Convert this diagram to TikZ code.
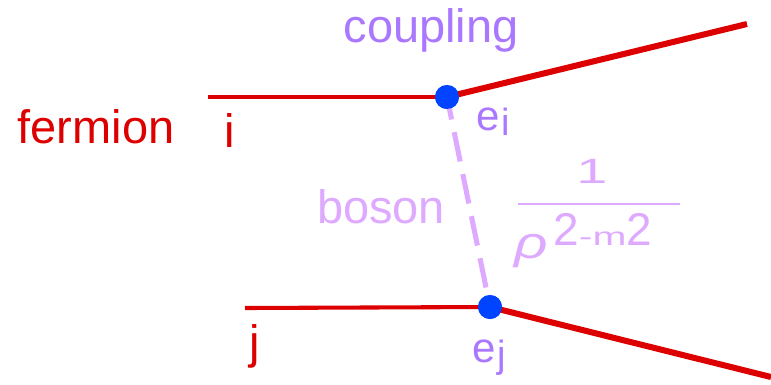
\documentclass[tikz,border=0pt]{standalone}
\usepackage{fontspec}
\setmainfont{Liberation Sans}
\usetikzlibrary{positioning}

\definecolor{fermionred}{RGB}{221,0,0}
\definecolor{couplingpurple}{RGB}{170,119,255}
\definecolor{bosonpurple}{RGB}{222,170,255}
\definecolor{vertexblue}{RGB}{0,68,255}

\begin{document}
\begin{tikzpicture}[
    x=0.025cm, y=-0.025cm,
    big label/.style={inner sep=0pt, font=\fontsize{33.4}{36}\selectfont},
    vertex dot/.style={circle, fill=vertexblue, inner sep=0pt, minimum size=17pt},
    fermion in/.style={line width=2.9pt, color=fermionred},
    fermion out/.style={line width=4.3pt, color=fermionred},
    boson line/.style={line width=3.6pt, color=bosonpurple, dash pattern=on 21.3pt off 9.2pt, dash phase=5pt},
]
\useasboundingbox (0,0) rectangle (771,384);

% === Vertices ===
\node[vertex dot] (vi) at (447,97) {};
\node[vertex dot] (vj) at (490,307) {};

% free line ends
\coordinate (iin) at (208,97);
\coordinate (iout) at (747,24);
\coordinate (jin) at (245,308);
\coordinate (jout) at (771,377);

% === Fermion lines ===
\draw[fermion in] (iin) -- (vi.center);
\draw[fermion out] (vi.center) -- (iout);
\draw[fermion in] (jin) -- (vj.center);
\draw[fermion out] (vj.center) -- (jout);

% === Boson exchange (dashed) ===
\draw[boson line] (vi.center) -- (vj.center);

% redraw dots on top
\node[vertex dot] at (vi) {};
\node[vertex dot] at (vj) {};

% === Labels ===
\node[big label, anchor=base, couplingpurple] (coupling) at (431,42) {coupling};
\node[big label, anchor=base, fermionred] (fermion) at (96,143) {fermion};
\node[big label, anchor=base, fermionred] (labi) at (230,147) {i};
\node[big label, anchor=base, fermionred] (labj) at (255,358) {j};
\node[big label, anchor=base, bosonpurple] (boson) at (381,223) {boson};

\node[inner sep=0pt, anchor=base west, couplingpurple, font=\fontsize{29.9}{30}\selectfont]
    (ei) at (476,130) {e\kern1.5pt\raisebox{-3.6pt}{\fontsize{27}{27}\selectfont i}};
\node[inner sep=0pt, anchor=base west, couplingpurple, font=\fontsize{29.9}{30}\selectfont]
    (ej) at (472,362) {e\kern1pt\raisebox{-3.6pt}{\fontsize{27}{27}\selectfont j}};

% Propagator
\node[inner sep=0pt, anchor=base, bosonpurple, font=\fontsize{24.9}{26}\selectfont]
    (num) at (592,183) {\scalebox{1.6}[1]{1}};
\draw[bosonpurple, line width=2.1pt] (518,204) -- (680,204);
\node[inner sep=0pt, anchor=base west, bosonpurple, font=\fontsize{32.7}{34}\selectfont]
    (den) at (514,245) {\raisebox{-9.6pt}{\fontsize{32}{32}\selectfont\itshape\scalebox{1.3}[1]{ρ}}\kern4pt
    2{\fontsize{29}{29}\selectfont\scalebox{1}[0.62]{-m}}2};

\end{tikzpicture}
\end{document}
